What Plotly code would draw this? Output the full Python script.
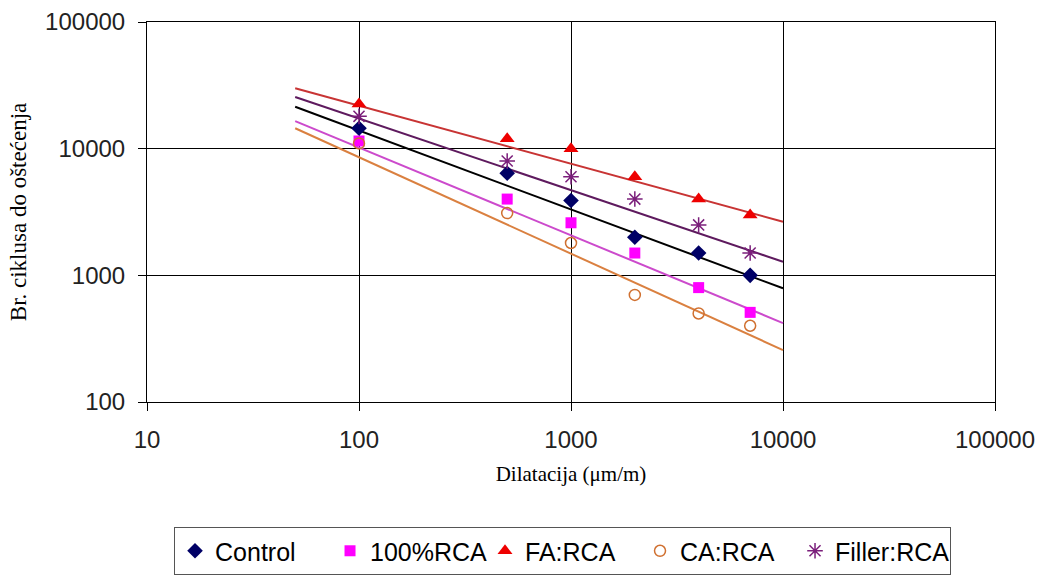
import plotly.graph_objects as go

# Data
x_vals = [100, 500, 1000, 2000, 4000, 7000]
control = [14500, 6400, 3900, 2000, 1500, 1000]
rca100 = [11500, 4000, 2600, 1500, 800, 510]
fa_rca = [22500, 12000, 10000, 6000, 4000, 3000]
ca_rca = [11000, 3100, 1800, 700, 500, 400]
filler_rca = [18000, 8000, 6000, 4000, 2500, 1500]

# Power-law trend lines (end points)
trend_x = [50, 10000]
trend_control = [21400, 790]
trend_rca100 = [16500, 420]
trend_fa = [30000, 2650]
trend_ca = [14500, 257]
trend_filler = [25600, 1280]

x_ticks = [10, 100, 1000, 10000, 100000]
y_ticks = [100, 1000, 10000, 100000]

fig = go.Figure()

trends = [
    (trend_fa, "#C83434"),
    (trend_filler, "#5E1A5E"),
    (trend_control, "#000000"),
    (trend_rca100, "#CC4ACC"),
    (trend_ca, "#DA8040"),
]
for ty, col in trends:
    fig.add_trace(go.Scatter(x=trend_x, y=ty, mode="lines",
                             line=dict(color=col, width=2),
                             showlegend=False, hoverinfo="skip"))

markers = [
    ("Control", control, dict(symbol="diamond", color="#000066", size=12)),
    ("100%RCA", rca100, dict(symbol="square", color="#FF00FF", size=11)),
    ("FA:RCA", fa_rca, dict(symbol="triangle-up", color="#EE0000", size=13)),
    ("CA:RCA", ca_rca, dict(symbol="circle-open", color="#D07030", size=11,
                            line=dict(width=1.5, color="#D07030"))),
    ("Filler:RCA", filler_rca, dict(symbol="asterisk-open", color="#7B1F7B", size=13,
                                    line=dict(width=1.5, color="#7B1F7B"))),
]
for name, ys, mk in markers:
    fig.add_trace(go.Scatter(x=x_vals, y=ys, mode="markers", name=name, marker=mk))

axis_common = dict(
    type="log", showgrid=True, gridcolor="#000000", gridwidth=1,
    showline=True, linecolor="#000000", linewidth=1, mirror=True,
    ticks="outside", ticklen=8, tickcolor="#000000",
    tickfont=dict(family="Liberation Sans, Arial", size=24, color="#222222"),
    zeroline=False, automargin=False,
)

fig.update_layout(
    width=1042, height=577,
    margin=dict(l=147, r=47, t=22, b=175, autoexpand=False),
    paper_bgcolor="white", plot_bgcolor="white",
    xaxis=dict(axis_common, range=[1, 5], tickvals=x_ticks,
               ticktext=[str(v) for v in x_ticks], ticklabelstandoff=8,
               title=dict(text="Dilatacija (μm/m)", standoff=14,
                          font=dict(family="Liberation Serif, Times New Roman", size=21, color="#000000"))),
    yaxis=dict(axis_common, range=[2, 5], tickvals=y_ticks,
               ticktext=[str(v) for v in y_ticks], ticklabelstandoff=8,
               title=dict(text="Br. ciklusa do oštećenja", standoff=12,
                          font=dict(family="Liberation Serif, Times New Roman", size=23, color="#000000"))),
    legend=dict(orientation="h", x=0.49, xanchor="center", y=-0.329, yanchor="top",
                font=dict(family="Liberation Sans, Arial", size=25, color="#000000"),
                bordercolor="#555555", borderwidth=1, bgcolor="white",
                itemwidth=30, entrywidth=110, entrywidthmode="pixels"),
    showlegend=True,
)

fig.write_html("out.html")
